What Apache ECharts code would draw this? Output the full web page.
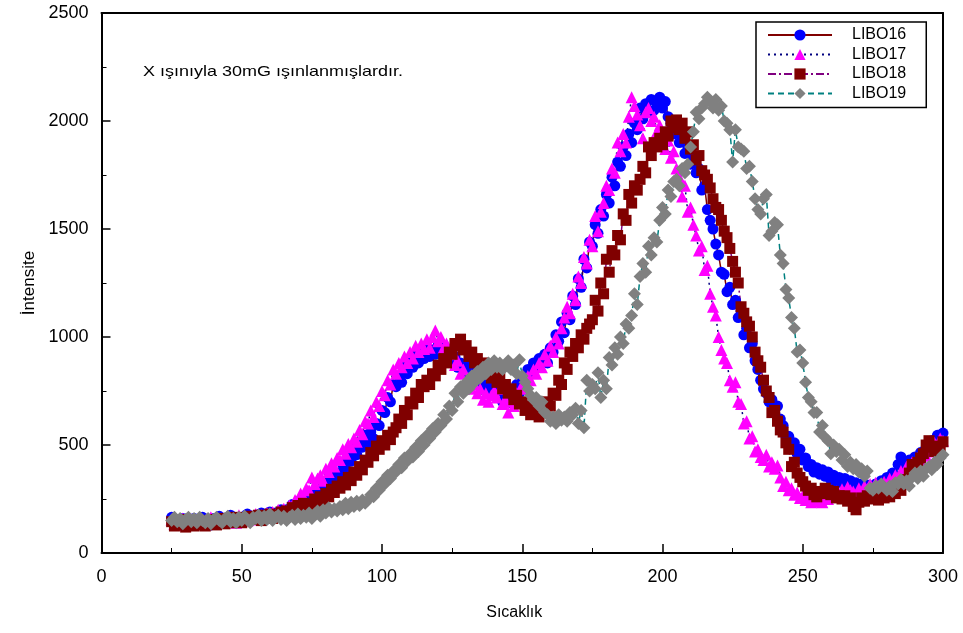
<!DOCTYPE html>
<html>
<head>
<meta charset="utf-8">
<script src="https://cdn.jsdelivr.net/npm/echarts@6/dist/echarts.min.js"></script>
<style>
html,body{margin:0;padding:0;background:#fff;}
#chart{width:963px;height:633px;}
</style>
</head>
<body>
<div id="chart"></div>
<script>
// Temperature (Sıcaklık) readings, one per degree
const temps = [
 25,26,27,28,29,30,31,32,33,34,
 35,36,37,38,39,40,41,42,43,44,
 45,46,47,48,49,50,51,52,53,54,
 55,56,57,58,59,60,61,62,63,64,
 65,66,67,68,69,70,71,72,73,74,
 75,76,77,78,79,80,81,82,83,84,
 85,86,87,88,89,90,91,92,93,94,
 95,96,97,98,99,100,101,102,103,104,
 105,106,107,108,109,110,111,112,113,114,
 115,116,117,118,119,120,121,122,123,124,
 125,126,127,128,129,130,131,132,133,134,
 135,136,137,138,139,140,141,142,143,144,
 145,146,147,148,149,150,151,152,153,154,
 155,156,157,158,159,160,161,162,163,164,
 165,166,167,168,169,170,171,172,173,174,
 175,176,177,178,179,180,181,182,183,184,
 185,186,187,188,189,190,191,192,193,194,
 195,196,197,198,199,200,201,202,203,204,
 205,206,207,208,209,210,211,212,213,214,
 215,216,217,218,219,220,221,222,223,224,
 225,226,227,228,229,230,231,232,233,234,
 235,236,237,238,239,240,241,242,243,244,
 245,246,247,248,249,250,251,252,253,254,
 255,256,257,258,259,260,261,262,263,264,
 265,266,267,268,269,270,271,272,273,274,
 275,276,277,278,279,280,281,282,283,284,
 285,286,287,288,289,290,291,292,293,294,
 295,296,297,298,299,300
];
const libo16 = [
 165,140,150,130,160,145,125,150,160,135,
 150,165,140,155,130,160,145,170,150,140,
 160,175,155,140,165,150,170,180,160,155,
 175,160,185,150,180,190,170,185,165,200,
 185,200,190,225,205,220,245,225,260,240,
 275,255,290,270,310,290,330,345,320,370,
 360,410,390,440,425,480,455,510,490,545,
 510,560,530,600,590,660,650,720,700,780,
 770,820,790,860,830,890,860,920,880,930,
 900,950,910,940,920,960,920,950,900,930,
 880,910,860,880,840,870,820,850,800,830,
 780,810,760,790,740,770,720,750,700,740,
 700,750,720,780,740,810,790,850,830,880,
 860,900,880,920,880,950,930,1010,980,1070,
 1020,1110,1080,1190,1150,1270,1230,1360,1320,1440,
 1420,1520,1480,1590,1560,1660,1620,1740,1700,1810,
 1790,1880,1840,1940,1900,1990,1960,2060,2010,2080,
 2040,2100,2050,2080,2110,2060,2090,2020,1990,1940,
 1970,1900,1930,1850,1880,1800,1840,1760,1780,1680,
 1700,1590,1540,1500,1430,1380,1300,1290,1210,1230,
 1150,1170,1090,1120,1010,1040,950,970,890,850,
 800,760,740,700,710,650,680,620,590,540,
 540,490,510,460,480,430,440,400,410,375,
 395,365,385,355,375,340,360,330,350,325,
 345,315,335,305,325,300,320,295,315,305,
 290,320,305,335,315,350,335,370,360,410,
 445,420,395,430,410,445,425,465,450,490,
 480,520,505,545,530,555
];
const libo17 = [
 155,135,150,145,160,130,145,155,135,150,
 160,140,150,135,165,145,155,140,160,150,
 170,145,160,140,175,155,165,150,170,160,
 180,155,175,165,185,170,190,175,200,185,
 205,190,220,210,245,230,275,260,300,290,
 350,320,345,360,335,390,375,415,400,440,
 430,480,460,505,490,530,515,570,550,610,
 600,660,630,700,680,750,730,800,780,850,
 830,880,860,910,880,930,900,960,930,970,
 945,990,950,1000,1030,980,1000,950,970,920,
 930,870,890,830,850,790,810,760,780,740,
 760,710,740,700,730,750,720,760,690,710,
 650,700,680,740,720,780,760,820,800,850,
 830,880,860,920,890,960,930,1000,970,1040,
 1090,1140,1110,1200,1170,1280,1250,1370,1340,1450,
 1420,1560,1490,1580,1620,1700,1680,1780,1760,1900,
 1860,1940,1900,2020,2110,2070,2030,1980,1920,2040,
 2060,2000,2020,1950,1980,1900,1870,1910,1830,1860,
 1780,1740,1650,1700,1580,1600,1520,1470,1400,1420,
 1310,1330,1200,1140,1100,1000,940,900,880,800,
 770,790,700,690,600,610,530,540,470,480,
 445,430,455,400,420,390,405,350,310,330,
 290,300,270,280,255,265,245,260,235,250,
 240,255,235,265,250,275,260,285,270,295,
 280,305,290,285,270,300,280,310,295,320,
 300,325,310,300,330,315,345,330,360,345,
 380,365,400,385,420,405,440,425,460,450,
 480,470,510,500,530,520
];
const libo18 = [
 145,125,140,130,155,120,135,145,125,140,
 130,150,125,145,135,155,130,145,160,135,
 150,140,165,145,155,140,165,150,170,155,
 160,175,150,170,165,180,160,175,170,190,
 175,195,185,210,195,220,205,230,200,225,
 225,250,235,260,245,275,260,295,280,310,
 300,330,315,350,335,375,360,400,385,430,
 420,465,450,495,480,520,500,545,525,560,
 580,620,600,660,640,700,690,740,720,780,
 770,800,780,830,820,870,850,900,880,930,
 920,970,960,990,940,960,910,930,880,900,
 860,880,840,860,810,830,790,810,760,780,
 740,760,710,730,690,700,660,680,640,660,
 650,630,670,650,700,680,740,730,800,780,
 880,850,930,910,970,950,1010,990,1040,1060,
 1080,1170,1120,1250,1200,1360,1300,1400,1380,1470,
 1450,1570,1540,1660,1620,1700,1680,1730,1790,1760,
 1880,1840,1900,1880,1920,1890,1950,1930,2000,1970,
 2005,1960,1990,1920,1950,1870,1890,1820,1840,1770,
 1750,1730,1690,1640,1600,1590,1540,1490,1460,1410,
 1350,1300,1250,1140,1110,1070,1050,1000,930,890,
 860,800,750,720,650,660,610,570,560,510,
 480,400,420,370,350,330,310,290,300,270,
 260,285,275,300,290,270,285,255,265,250,
 265,240,255,215,200,235,255,240,265,250,
 280,260,245,270,255,275,260,290,275,300,
 290,320,340,370,410,395,420,440,460,500,
 520,490,470,495,485,515
];
// LIBO18 trace continues a little past the 300 edge (line only, no markers)
const libo18TailTemps = [302,304,306];
const libo18Tail = [590,640,690];
const libo19 = [
 150,165,145,160,135,155,165,145,160,140,
 165,150,140,160,135,155,165,150,140,160,
 170,145,160,140,165,150,170,155,140,165,
 160,175,150,170,155,180,150,165,175,155,
 170,150,165,175,155,180,160,175,165,185,
 160,180,195,170,200,185,210,190,205,195,
 215,200,230,205,235,215,240,220,245,230,
 245,270,260,300,290,330,320,360,345,380,
 375,410,395,440,425,460,445,490,470,520,
 500,545,530,575,560,600,590,640,620,680,
 660,740,700,770,740,790,760,820,790,840,
 810,860,830,880,850,890,860,880,850,870,
 890,850,870,830,895,820,790,760,730,710,
 720,680,700,650,640,610,630,600,640,615,
 630,610,650,640,670,600,660,580,800,750,
 780,760,835,720,800,760,905,870,950,920,
 1000,970,1060,1040,1100,1200,1150,1280,1340,1300,
 1420,1380,1460,1440,1540,1600,1570,1680,1650,1720,
 1730,1700,1780,1760,1800,1880,1950,2040,2010,2060,
 2080,2110,2090,2060,2100,2050,2070,2000,1990,1960,
 1810,1960,1880,1870,1860,1780,1790,1720,1640,1590,
 1570,1640,1660,1470,1490,1530,1520,1380,1340,1220,
 1180,1090,1040,930,940,880,790,720,700,650,
 650,560,590,535,520,460,500,470,480,430,
 455,400,420,390,410,375,390,355,380,300,
 290,310,300,320,305,290,310,285,325,320,
 340,320,335,310,350,370,345,380,355,390,
 400,385,420,410,440,455
];
const seriesNames = ['LIBO16','LIBO17','LIBO18','LIBO19'];
const xTicks = {min:0, max:300, interval:50};
const yTicks = {min:0, max:2500, interval:500};
const annotation = 'X ışınıyla 30mG ışınlanmışlardır.';

const FONT = 'Liberation Sans, Arial, sans-serif';
function pairs(xs, ys){ return xs.map((x,i)=>[x, ys[i]]); }

const chart = echarts.init(document.getElementById('chart'), null, {renderer:'canvas'});

const axisCommon = {
  type:'value',
  axisLine:{show:true, onZero:false, lineStyle:{color:'#000', width:2}},
  splitLine:{show:false}
};

const data18 = pairs(temps, libo18).concat(
  libo18TailTemps.map((x,i)=>({value:[x, libo18Tail[i]], symbol:'none'}))
);

const option = {
  backgroundColor:'#fff',
  animation:false,
  grid:{left:101.5, right:20, top:13, bottom:80, containLabel:false},
  xAxis:[
    Object.assign({}, axisCommon, {
      position:'bottom', min:xTicks.min, max:xTicks.max, interval:xTicks.interval,
      axisTick:{show:true, inside:true, length:9, lineStyle:{color:'#000', width:1.5}},
      minorTick:{show:true, splitNumber:2, length:5, lineStyle:{color:'#000', width:1}},
      axisLabel:{color:'#000', fontSize:18, fontFamily:FONT, margin:15},
      name:'Sıcaklık', nameLocation:'middle', nameGap:52,
      nameTextStyle:{color:'#000', fontSize:16, fontFamily:FONT, padding:[0,16,0,0]}
    }),
    Object.assign({}, axisCommon, {
      position:'top', min:xTicks.min, max:xTicks.max, interval:xTicks.interval,
      axisTick:{show:false}, axisLabel:{show:false}
    })
  ],
  yAxis:[
    Object.assign({}, axisCommon, {
      position:'left', min:yTicks.min, max:yTicks.max, interval:yTicks.interval,
      axisTick:{show:true, inside:true, length:9, lineStyle:{color:'#000', width:1.5}},
      minorTick:{show:true, splitNumber:2, length:5, lineStyle:{color:'#000', width:1}},
      axisLabel:{color:'#000', fontSize:18, fontFamily:FONT, margin:13, formatter:(v)=>String(v)},
      name:'İntensite', nameLocation:'middle', nameGap:64, nameRotate:90,
      nameTextStyle:{color:'#000', fontSize:17, fontFamily:FONT}
    }),
    Object.assign({}, axisCommon, {
      position:'right', min:yTicks.min, max:yTicks.max, interval:yTicks.interval,
      axisTick:{show:false}, axisLabel:{show:false}
    })
  ],
  legend:{
    orient:'vertical', left:756, top:22,
    data:seriesNames,
    backgroundColor:'#fff',
    borderColor:'#000', borderWidth:1.5, borderRadius:0,
    padding:[5,20,6,11],
    itemWidth:64, itemHeight:14, itemGap:3.5,
    textStyle:{color:'#000', fontSize:16, fontFamily:FONT, padding:[0,0,0,15]}
  },
  graphic:[{
    type:'text', x:143, y:72, scaleX:1.2,
    style:{text:annotation, fill:'#000', font:'15px ' + FONT, verticalAlign:'middle'}
  }],
  series:[
    {
      name:seriesNames[0], type:'line', data:pairs(temps, libo16),
      symbol:'circle', symbolSize:11,
      itemStyle:{color:'#0000ff'},
      lineStyle:{color:'#800000', width:1.5, type:'solid'}
    },
    {
      name:seriesNames[1], type:'line', data:pairs(temps, libo17),
      symbol:'triangle', symbolSize:12,
      itemStyle:{color:'#ff00ff'},
      lineStyle:{color:'#000080', width:1.5, type:[2,4]}
    },
    {
      name:seriesNames[2], type:'line', data:data18, clip:false,
      symbol:'rect', symbolSize:11,
      itemStyle:{color:'#800000'},
      lineStyle:{color:'#800080', width:1.5, type:[8,3,2,3]}
    },
    {
      name:seriesNames[3], type:'line', data:pairs(temps, libo19),
      symbol:'diamond', symbolSize:13,
      itemStyle:{color:'#808080'},
      lineStyle:{color:'#008080', width:1.5, type:[6,4]}
    }
  ]
};
chart.setOption(option);
</script>
</body>
</html>
